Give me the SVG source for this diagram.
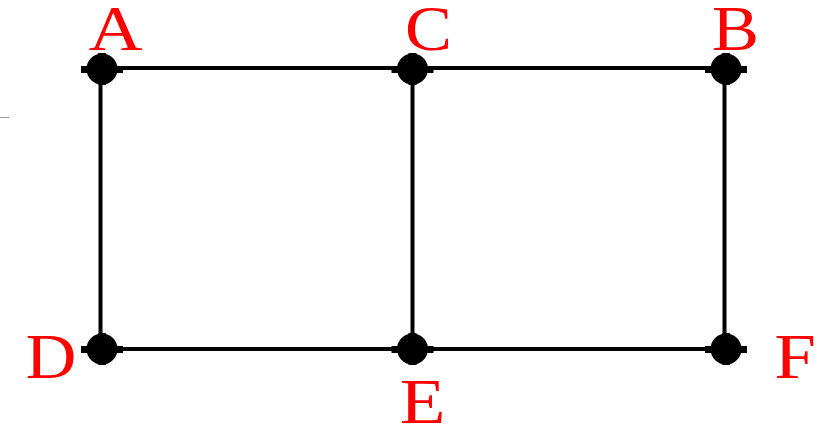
<svg xmlns="http://www.w3.org/2000/svg" width="828" height="428" viewBox="0 0 828 428">
<style>
.edge{stroke:#000;stroke-width:4;fill:none;stroke-linecap:square}
.dot{fill:#000}
.lbl{font-family:"Liberation Serif","Times New Roman",serif;font-size:64px;fill:#ff0000;text-anchor:middle}
</style>
<defs>
<g id="blob">
<circle cx="0" cy="0" r="15.5"/>
<rect x="-21" y="-3" width="42" height="7"/>
<rect x="-4" y="-16" width="8" height="32"/>
</g>
</defs>
<rect width="828" height="428" fill="#fff"/>
<line x1="0" y1="117.5" x2="9" y2="117.5" stroke="#999" stroke-width="1"/>
<g id="connectors">
<line class="edge" x1="100.5" y1="68" x2="724.5" y2="68"/>
<line class="edge" x1="100.5" y1="349" x2="724.5" y2="349"/>
<line class="edge" x1="100.5" y1="68" x2="100.5" y2="349"/>
<line class="edge" x1="412.5" y1="68" x2="412.5" y2="349"/>
<line class="edge" x1="724.5" y1="68" x2="724.5" y2="349"/>
</g>
<g id="node-A"><use href="#blob" class="dot" x="102" y="69"/><text class="lbl" transform="translate(115.5,50) scale(1.17,1)">A</text></g>
<g id="node-C"><use href="#blob" class="dot" x="412.5" y="69"/><text class="lbl" transform="translate(428.5,50) scale(1.1,1)">C</text></g>
<g id="node-B"><use href="#blob" class="dot" x="726" y="69"/><text class="lbl" transform="translate(735.5,50) scale(1.1,1)">B</text></g>
<g id="node-D"><use href="#blob" class="dot" x="102" y="349"/><text class="lbl" transform="translate(51,378) scale(1.1,1)">D</text></g>
<g id="node-E"><use href="#blob" class="dot" x="412.5" y="349"/><text class="lbl" transform="translate(422.5,423) scale(1.17,1)">E</text></g>
<g id="node-F"><use href="#blob" class="dot" x="726" y="349"/><text class="lbl" transform="translate(795,378) scale(1.17,1)">F</text></g>
</svg>
